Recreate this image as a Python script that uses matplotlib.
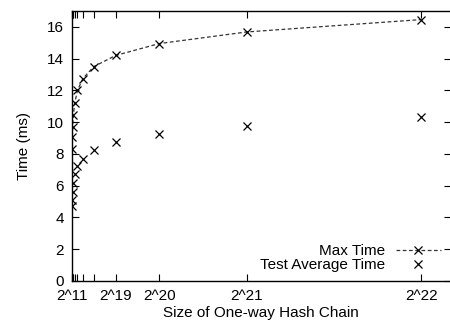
import matplotlib
matplotlib.use("Agg")
import matplotlib.pyplot as plt

exponents = [11, 12, 13, 14, 15, 16, 17, 18, 19, 20, 21, 22]
max_time = [8.3, 9.05, 9.7, 10.45, 11.2, 12.0, 12.75, 13.5, 14.2, 14.95, 15.68, 16.46]
avg_time = [4.7, 5.1, 5.6, 6.15, 6.75, 7.25, 7.7, 8.25, 8.75, 9.25, 9.77, 10.3]
tick_labels = {11: "2^11", 19: "2^19", 20: "2^20", 21: "2^21", 22: "2^22"}

sizes = [2 ** e for e in exponents]

plt.rcParams['font.family'] = ['Liberation Sans', 'DejaVu Sans']
fig = plt.figure(figsize=(4.5, 3.28), dpi=100)
ax = fig.add_axes([72 / 450, 1 - 281 / 328, (450.5 - 72) / 450, (281 - 11) / 328])

ax.plot(sizes, max_time, linestyle=(0, (3, 2)), color='#333333', linewidth=0.9,
        marker='x', markersize=6, markeredgewidth=0.9, markeredgecolor='black',
        label='Max Time')
ax.plot(sizes, avg_time, linestyle='none', color='black',
        marker='x', markersize=6, markeredgewidth=0.9, label='Test Average Time')

ax.set_xlim(0, 4.335 * 2 ** 20)
ax.set_ylim(0, 17)
ax.set_yticks(range(0, 17, 2))
ax.set_xticks(sizes)
ax.set_xticklabels([tick_labels.get(e, "") for e in exponents])

ax.tick_params(direction='in', top=True, right=True, length=5, width=0.8,
               labelsize=11)
ax.tick_params(axis='x', pad=6)
ax.tick_params(axis='y', pad=6)
for s in ax.spines.values():
    s.set_linewidth(1.0)

ax.set_xlabel("Size of One-way Hash Chain", fontsize=11, labelpad=2)
ax.set_ylabel("Time (ms)", fontsize=11, labelpad=11)

leg = ax.legend(loc='lower right', frameon=False, fontsize=11, markerfirst=False,
                handlelength=2.9, handletextpad=0.7, borderaxespad=0.0,
                labelspacing=0.0, bbox_to_anchor=(0.99, 0.01))

fig.savefig("out.png", dpi=100)
